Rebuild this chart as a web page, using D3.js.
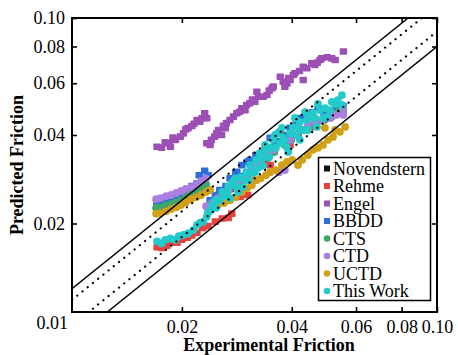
<!DOCTYPE html>
<html>
<head>
<meta charset="utf-8">
<script src="https://cdn.jsdelivr.net/npm/d3@7/dist/d3.min.js"></script>
<style>
  html, body { margin: 0; padding: 0; background: #fff; }
  svg { display: block; }
  text { font-family: "Liberation Serif", "Times New Roman", serif; fill: #000; }
</style>
</head>
<body>
<svg id="chart" width="458" height="355"></svg>
<script>
// Predicted vs. experimental friction factor for several correlations (log-log)

const xTicks = [0.02, 0.04, 0.06, 0.08, 0.1];
const xTickLabels = ["0.02", "0.04", "0.06", "0.08", "0.10"];
const yTicks = [0.02, 0.04, 0.06, 0.08, 0.1];
const yTickLabels = ["0.02", "0.04", "0.06", "0.08", "0.10"];
const originLabel = "0.01";

// Reference bands: y = k * x
const solidBands = [1.2, 0.8];
const dottedBands = [1.1, 0.9];

const novendstern = [
  [0.0171,0.0230],[0.0176,0.0232],[0.0182,0.0236],[0.0188,0.0238],[0.0194,0.0242],[0.0200,0.0246],
  [0.0207,0.0252],[0.0213,0.0258],[0.0220,0.0264],[0.0227,0.0272],[0.0231,0.0280],
  [0.0242,0.0236],[0.0251,0.0246],[0.0261,0.0256],[0.0271,0.0262],[0.0281,0.0276],[0.0291,0.0282],
  [0.0302,0.0290],[0.0311,0.0302],[0.0321,0.0314],[0.0334,0.0330],[0.0344,0.0340],[0.0358,0.0352],
  [0.0372,0.0380],[0.0383,0.0375],[0.0398,0.0388],[0.0416,0.0402],[0.0430,0.0418],[0.0449,0.0432],
  [0.0469,0.0446],[0.0490,0.0452],[0.0512,0.0462],[0.0535,0.0476]
];

const rehme = [
  [0.0171,0.0166],[0.0176,0.0165],[0.0182,0.0168],[0.0188,0.0172],[0.0194,0.0172],[0.0200,0.0176],
  [0.0207,0.0179],[0.0213,0.0182],[0.0220,0.0186],[0.0228,0.0193],[0.0236,0.0196],[0.0247,0.0203],
  [0.0258,0.0208],[0.0268,0.0209],[0.0274,0.0216],
  [0.0289,0.0246],[0.0303,0.0250],[0.0319,0.0281],[0.0349,0.0316],[0.0396,0.0370],[0.0449,0.0423],[0.0509,0.0468]
];

const engel = [
  [0.0171,0.0365],[0.0176,0.0362],[0.0184,0.0375],[0.0186,0.0365],[0.0192,0.0385],[0.0198,0.0395],
  [0.0202,0.0405],[0.0208,0.0422],[0.0213,0.0429],[0.0220,0.0450],[0.0224,0.0444],[0.0227,0.0456],
  [0.0231,0.0474],[0.0234,0.0456],[0.0180,0.0378],[0.0189,0.0392],[0.0205,0.0418],[0.0216,0.0437],
  [0.0234,0.0375],[0.0241,0.0385],[0.0239,0.0370],[0.0249,0.0405],[0.0252,0.0416],[0.0257,0.0400],
  [0.0263,0.0422],[0.0265,0.0439],[0.0271,0.0450],[0.0277,0.0462],[0.0283,0.0474],[0.0292,0.0493],
  [0.0301,0.0506],[0.0298,0.0486],[0.0307,0.0513],[0.0317,0.0519],[0.0324,0.0540],[0.0321,0.0561],
  [0.0334,0.0540],[0.0342,0.0547],[0.0353,0.0577],[0.0356,0.0584],[0.0372,0.0631],[0.0379,0.0607],
  [0.0388,0.0599],[0.0396,0.0615],[0.0404,0.0640],[0.0408,0.0649],[0.0383,0.0584],[0.0430,0.0683],
  [0.0440,0.0675],[0.0430,0.0615],[0.0454,0.0702],[0.0463,0.0692],[0.0478,0.0720],[0.0483,0.0729],
  [0.0515,0.0729],[0.0526,0.0720],[0.0554,0.0769],
  [0.0246,0.0395],[0.0260,0.0430],[0.0288,0.0480],[0.0312,0.0528],[0.0347,0.0566],[0.0392,0.0625],
  [0.0420,0.0660],[0.0470,0.0705],[0.0500,0.0735]
];

const bbdd = [
  [0.0171,0.0233],[0.0176,0.0236],[0.0182,0.0240],[0.0188,0.0242],[0.0194,0.0248],[0.0200,0.0254],
  [0.0207,0.0258],[0.0213,0.0268],[0.0220,0.0274],[0.0227,0.0285],[0.0231,0.0302],[0.0236,0.0292],
  [0.0223,0.0292],
  [0.0239,0.0240],[0.0247,0.0250],[0.0254,0.0260],[0.0264,0.0268],[0.0274,0.0285],[0.0283,0.0299],
  [0.0292,0.0290],[0.0302,0.0324],[0.0311,0.0316],[0.0319,0.0342],[0.0327,0.0334],[0.0338,0.0356],
  [0.0349,0.0391],[0.0360,0.0379],[0.0372,0.0410],[0.0383,0.0400],[0.0396,0.0423],[0.0411,0.0433],
  [0.0421,0.0457],[0.0438,0.0457],[0.0455,0.0478],[0.0472,0.0494],[0.0490,0.0475],[0.0509,0.0457],
  [0.0529,0.0494],[0.0553,0.0502],[0.0553,0.0486],
  [0.0271,0.0285],[0.0281,0.0299],[0.0292,0.0316],[0.0307,0.0329],[0.0321,0.0337],[0.0349,0.0356]
];

const cts = [
  [0.0170,0.0226],[0.0175,0.0227],[0.0181,0.0231],[0.0187,0.0233],[0.0193,0.0236],[0.0199,0.0240],
  [0.0205,0.0246],[0.0212,0.0252],[0.0219,0.0258],[0.0226,0.0264],[0.0233,0.0272],
  [0.0240,0.0233],[0.0250,0.0242],[0.0259,0.0252],[0.0269,0.0260],[0.0280,0.0270],[0.0289,0.0277],
  [0.0300,0.0285],[0.0311,0.0299],[0.0323,0.0311],[0.0334,0.0347],[0.0344,0.0334],[0.0358,0.0350],
  [0.0372,0.0406],[0.0383,0.0370],[0.0398,0.0385],[0.0416,0.0400],[0.0430,0.0416],[0.0449,0.0430],
  [0.0469,0.0443],[0.0490,0.0450],[0.0512,0.0461],[0.0535,0.0478],[0.0553,0.0478]
];

const ctd = [
  [0.0170,0.0242],[0.0175,0.0244],[0.0181,0.0248],[0.0187,0.0250],[0.0193,0.0254],[0.0199,0.0258],
  [0.0205,0.0262],[0.0212,0.0266],[0.0219,0.0272],[0.0226,0.0279],[0.0233,0.0285],[0.0233,0.0229],
  [0.0236,0.0220],
  [0.0242,0.0235],[0.0251,0.0244],[0.0261,0.0256],[0.0269,0.0260],[0.0280,0.0274],[0.0291,0.0281],
  [0.0300,0.0290],[0.0311,0.0304],[0.0321,0.0316],[0.0331,0.0329],[0.0344,0.0342],[0.0358,0.0356],
  [0.0369,0.0299],[0.0383,0.0304],[0.0396,0.0385],[0.0411,0.0400],[0.0427,0.0416],[0.0443,0.0433],
  [0.0463,0.0443],[0.0484,0.0450],[0.0509,0.0457],[0.0529,0.0468],[0.0553,0.0468],[0.0553,0.0494]
];

const uctd = [
  [0.0170,0.0216],[0.0175,0.0217],[0.0181,0.0220],[0.0187,0.0224],[0.0193,0.0227],[0.0199,0.0231],
  [0.0205,0.0236],[0.0212,0.0242],[0.0219,0.0246],[0.0226,0.0250],[0.0233,0.0256],[0.0239,0.0260],
  [0.0242,0.0226],[0.0251,0.0231],[0.0261,0.0235],[0.0271,0.0240],[0.0281,0.0246],[0.0292,0.0256],
  [0.0302,0.0264],[0.0311,0.0270],[0.0319,0.0281],[0.0329,0.0285],[0.0340,0.0292],[0.0349,0.0299],
  [0.0362,0.0304],[0.0376,0.0316],[0.0388,0.0324],[0.0401,0.0329],[0.0416,0.0316],[0.0427,0.0329],
  [0.0443,0.0342],[0.0457,0.0356],[0.0472,0.0362],[0.0487,0.0370],[0.0503,0.0385],[0.0519,0.0394],
  [0.0542,0.0410],[0.0560,0.0426],[0.0493,0.0423],[0.0526,0.0416]
];

const thisWork = [
  [0.0171,0.0174],[0.0176,0.0171],[0.0180,0.0176],[0.0186,0.0178],[0.0192,0.0176],[0.0196,0.0181],
  [0.0202,0.0183],[0.0208,0.0185],[0.0215,0.0190],[0.0220,0.0198],[0.0224,0.0201],[0.0229,0.0203],
  [0.0234,0.0211],[0.0236,0.0217],[0.0239,0.0222],
  [0.0242,0.0231],[0.0248,0.0226],[0.0254,0.0240],[0.0261,0.0248],[0.0266,0.0254],[0.0271,0.0244],
  [0.0276,0.0277],[0.0281,0.0268],[0.0289,0.0287],[0.0294,0.0266],[0.0300,0.0299],[0.0305,0.0281],
  [0.0313,0.0297],[0.0319,0.0329],[0.0323,0.0309],[0.0327,0.0347],[0.0334,0.0314],[0.0340,0.0356],
  [0.0347,0.0337],[0.0355,0.0385],[0.0362,0.0362],[0.0367,0.0406],[0.0372,0.0376],[0.0379,0.0391],
  [0.0388,0.0364],[0.0396,0.0406],[0.0403,0.0426],[0.0411,0.0400],[0.0421,0.0385],[0.0421,0.0443],
  [0.0429,0.0416],[0.0440,0.0450],[0.0449,0.0461],[0.0457,0.0475],[0.0469,0.0426],[0.0478,0.0486],
  [0.0487,0.0457],[0.0500,0.0461],[0.0509,0.0486],[0.0529,0.0510],[0.0549,0.0547],[0.0549,0.0506],
  [0.0247,0.0240],[0.0258,0.0256],[0.0268,0.0268],[0.0280,0.0285],[0.0285,0.0256],[0.0298,0.0281],
  [0.0307,0.0316],[0.0317,0.0299],[0.0331,0.0334],[0.0338,0.0370],[0.0349,0.0362],[0.0360,0.0400],
  [0.0376,0.0423],[0.0383,0.0385],[0.0391,0.0350],[0.0408,0.0457],[0.0416,0.0423],[0.0435,0.0478],
  [0.0443,0.0416],[0.0463,0.0457],[0.0472,0.0510],[0.0493,0.0494],[0.0515,0.0518],[0.0535,0.0526]
];

const series = [
  { name: "Novendstern", data: novendstern, color: "#111111", shape: "square" },
  { name: "Rehme",       data: rehme,       color: "#e8403f", shape: "square" },
  { name: "Engel",       data: engel,       color: "#9c4fb4", shape: "square" },
  { name: "BBDD",        data: bbdd,        color: "#2c6fd9", shape: "square" },
  { name: "CTS",         data: cts,         color: "#3ea66b", shape: "circle" },
  { name: "CTD",         data: ctd,         color: "#a97fe0", shape: "circle" },
  { name: "UCTD",        data: uctd,        color: "#d1a018", shape: "circle" },
  { name: "This Work",   data: thisWork,    color: "#22caca", shape: "circle" }
];

const plot = { left: 72, right: 437, top: 18, bottom: 312 };

const svg = d3.select("#chart");

const x = d3.scaleLog().domain([0.01, 0.1]).range([plot.left, plot.right]);
const y = d3.scaleLog().domain([0.01, 0.1]).range([plot.bottom, plot.top]);

svg.append("defs").append("clipPath").attr("id", "plotClip")
  .append("rect")
  .attr("x", plot.left).attr("y", plot.top)
  .attr("width", plot.right - plot.left).attr("height", plot.bottom - plot.top);

// Data markers
const marks = svg.append("g").attr("clip-path", "url(#plotClip)");
series.forEach(s => {
  const g = marks.append("g");
  if (s.shape === "square") {
    g.selectAll("rect").data(s.data).join("rect")
      .attr("x", d => x(d[0]) - 3.7)
      .attr("y", d => y(d[1]) - 3.3)
      .attr("width", 7.4).attr("height", 6.6)
      .attr("rx", 0.8)
      .attr("fill", s.color);
  } else {
    g.selectAll("circle").data(s.data).join("circle")
      .attr("cx", d => x(d[0]))
      .attr("cy", d => y(d[1]))
      .attr("r", 3.9)
      .attr("fill", s.color);
  }
});

// Reference lines y = k x across the full domain
const lines = svg.append("g").attr("clip-path", "url(#plotClip)");
const band = k => [[0.01, 0.01 * k], [0.1, 0.1 * k]];
const lineGen = d3.line().x(d => x(d[0])).y(d => y(d[1]));
solidBands.forEach(k => {
  lines.append("path").attr("d", lineGen(band(k)))
    .attr("fill", "none").attr("stroke", "#000").attr("stroke-width", 1.4);
});
dottedBands.forEach(k => {
  lines.append("path").attr("d", lineGen(band(k)))
    .attr("fill", "none").attr("stroke", "#000").attr("stroke-width", 2.2)
    .attr("stroke-linecap", "round").attr("stroke-dasharray", "0.1 6.6");
});

// Axes with inward ticks, mirrored on top and right
const xAxis = d3.axisBottom(x).tickValues(xTicks)
  .tickFormat((d, i) => xTickLabels[i]).tickSizeInner(-5).tickSizeOuter(0).tickPadding(8);
const yAxis = d3.axisLeft(y).tickValues(yTicks)
  .tickFormat((d, i) => yTickLabels[i]).tickSizeInner(-5).tickSizeOuter(0).tickPadding(7);
const xTop = d3.axisTop(x).tickValues(xTicks).tickFormat("").tickSizeInner(-5).tickSizeOuter(0);
const yRight = d3.axisRight(y).tickValues(yTicks).tickFormat("").tickSizeInner(-5).tickSizeOuter(0);

function styleAxis(g) {
  g.select(".domain").remove();
  g.selectAll(".tick line").attr("stroke", "#000").attr("stroke-width", 1.6);
  g.selectAll(".tick text")
    .attr("font-family", "'Liberation Serif', 'Times New Roman', serif")
    .attr("font-size", 18).attr("fill", "#000");
}

svg.append("g").attr("transform", `translate(0,${plot.bottom})`).call(xAxis).call(styleAxis);
svg.append("g").attr("transform", `translate(${plot.left},0)`).call(yAxis).call(styleAxis);
svg.append("g").attr("transform", `translate(0,${plot.top})`).call(xTop).call(styleAxis);
svg.append("g").attr("transform", `translate(${plot.right},0)`).call(yRight).call(styleAxis);

// Shared origin label
svg.append("text")
  .attr("x", 68).attr("y", 329)
  .attr("text-anchor", "end")
  .attr("font-size", 18)
  .text(originLabel);

// Frame
svg.append("rect")
  .attr("x", plot.left).attr("y", plot.top)
  .attr("width", plot.right - plot.left).attr("height", plot.bottom - plot.top)
  .attr("fill", "none").attr("stroke", "#000").attr("stroke-width", 2);

// Axis titles
svg.append("text")
  .attr("x", 269).attr("y", 350.5)
  .attr("text-anchor", "middle")
  .attr("font-size", 18).attr("font-weight", "bold")
  .text("Experimental Friction");

svg.append("text")
  .attr("transform", `translate(23,${(plot.top + plot.bottom) / 2}) rotate(-90)`)
  .attr("text-anchor", "middle")
  .attr("font-size", 18).attr("font-weight", "bold")
  .text("Predicted Friction");

// Legend
const legend = svg.append("g");
const lg = { x: 318.5, y: 157.5, w: 112, h: 143 };
legend.append("rect")
  .attr("x", lg.x).attr("y", lg.y).attr("width", lg.w).attr("height", lg.h)
  .attr("fill", "#fff").attr("stroke", "#000").attr("stroke-width", 1.5);

const rowH = 17.5;
series.forEach((s, i) => {
  const cy = lg.y + 11 + i * rowH;
  if (s.shape === "square") {
    legend.append("rect")
      .attr("x", 324).attr("y", cy - 3).attr("width", 6).attr("height", 6)
      .attr("fill", s.color);
  } else {
    legend.append("circle")
      .attr("cx", 327).attr("cy", cy).attr("r", 3.3)
      .attr("fill", s.color);
  }
  legend.append("text")
    .attr("x", 333).attr("y", cy + 6.2)
    .attr("font-size", 18)
    .text(s.name);
});
</script>
</body>
</html>
